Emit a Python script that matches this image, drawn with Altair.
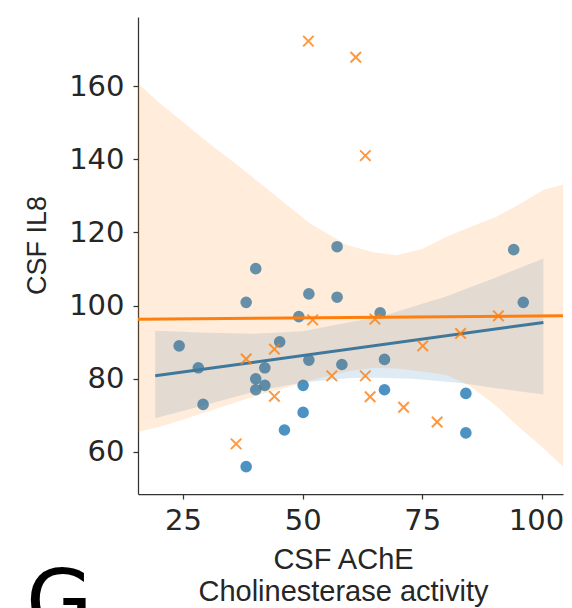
import altair as alt
import pandas as pd

# ---- scatter data ----
blue_x = [24.2, 28.2, 29.2, 38.2, 38.2, 40.2, 40.2, 40.2, 42.1, 42.1, 45.2, 46.2, 49.2, 50.1,
          50.1, 51.3, 51.3, 57.2, 57.2, 58.2, 66.2, 67.1, 67.1, 84.1, 84.1, 94.1, 96.1]
blue_y = [89.0, 83.0, 73.0, 100.9, 56.0, 110.1, 80.0, 77.0, 83.0, 78.2, 90.1, 66.0, 97.0, 78.2,
          70.8, 103.2, 85.1, 116.1, 102.3, 83.9, 98.0, 85.3, 77.0, 76.0, 65.2, 115.3, 100.9]

orange_x = [36.1, 38.2, 44.1, 44.1, 51.2, 52.1, 56.1, 61.1, 63.1, 63.1, 64.1, 65.1, 71.1,
            75.1, 78.1, 83.0, 90.9]
orange_y = [62.2, 85.4, 88.1, 75.2, 172.3, 96.1, 80.8, 167.9, 141.0, 80.8, 75.1, 96.3, 72.2,
            89.0, 68.2, 92.4, 97.2]

# ---- regression lines ----
blue_line_x = [19.2, 100.3]
blue_line_y = [80.8, 95.4]
orange_line_x = [15.6, 104.4]
orange_line_y = [96.3, 97.2]

# ---- confidence bands ----
blue_band_x = [19.2, 30, 40, 50, 60, 66, 73, 80, 83.5, 90, 100.3]
blue_band_lo = [69.2, 73.0, 76.5, 79.0, 80.2, 80.3, 80.0, 79.2, 78.8, 77.5, 75.7]
blue_band_hi = [93.1, 92.6, 92.3, 93.0, 95.5, 96.8, 99.7, 102.5, 104.3, 107.5, 112.9]

orange_band_x = [15.6, 20, 25.4, 30, 35.9, 42, 46.3, 51.5, 59.2, 65, 69.6, 75, 80.1, 85,
                 90.5, 95, 100.3, 104.4]
orange_band_lo = [65.5, 66.8, 69.0, 71.0, 73.5, 76.0, 77.5, 79.5, 82.0, 83.0, 82.8, 82.0,
                  81.0, 78.0, 72.5, 67.0, 61.0, 56.0]
orange_band_hi = [160.7, 155.5, 149.8, 144.8, 138.9, 132.5, 128.0, 122.5, 116.6, 114.5,
                  113.8, 115.5, 118.8, 121.5, 124.3, 127.5, 131.6, 133.1]

x_ticks = [25, 50, 75, 100]
y_ticks = [60, 80, 100, 120, 140, 160]

BLUE = "#1f77b4"
ORANGE = "#ff7f0e"
AX = "#333333"
TXT = "#262626"

xs = alt.Scale(domain=[15.6, 104.4], nice=False, zero=False)
ys = alt.Scale(domain=[48.5, 178.9], nice=False, zero=False)

x_axis = alt.Axis(
    values=x_ticks, title=["CSF AChE", "Cholinesterase activity"], grid=False,
    domainColor=AX, domainWidth=1.25, tickColor=AX, tickWidth=1.25, tickSize=5,
    labelFont="DejaVu Sans", labelFontSize=29, labelColor=TXT, labelPadding=7,
    labelOffset={"condition": {"test": "datum.value == 100", "value": -6}, "value": 0},
    titleFont="Liberation Sans", titleFontSize=29, titleFontWeight="normal", titleColor=TXT,
    titleLineHeight=32, titleX=205, titleY=74, titleAlign="center", titleBaseline="alphabetic",
)
y_axis = alt.Axis(
    values=y_ticks, title="CSF IL8", grid=False,
    domainColor=AX, domainWidth=1.25, tickColor=AX, tickWidth=1.25, tickSize=5,
    labelFont="DejaVu Sans", labelFontSize=29, labelColor=TXT, labelPadding=9,
    titleFont="Liberation Sans", titleFontSize=27, titleFontWeight="normal", titleColor=TXT,
    titleAngle=270, titleX=-101, titleY=228, titleAlign="center", titleBaseline="middle",
)

blue_pts = pd.DataFrame({"x": blue_x, "y": blue_y})
orange_pts = pd.DataFrame({"x": orange_x, "y": orange_y})
blue_ln = pd.DataFrame({"x": blue_line_x, "y": blue_line_y})
orange_ln = pd.DataFrame({"x": orange_line_x, "y": orange_line_y})
blue_bd = pd.DataFrame({"x": blue_band_x, "y": blue_band_lo, "hi": blue_band_hi})
orange_bd = pd.DataFrame({"x": orange_band_x, "y": orange_band_lo, "hi": orange_band_hi})

X = alt.X("x:Q", scale=xs, axis=x_axis)
Y = alt.Y("y:Q", scale=ys, axis=y_axis)

l_blue_pts = alt.Chart(blue_pts).mark_circle(size=135, color=BLUE, opacity=0.8).encode(x=X, y=Y)
l_blue_band = alt.Chart(blue_bd).mark_area(color=BLUE, opacity=0.15).encode(x=X, y=Y, y2="hi:Q")
l_blue_line = alt.Chart(blue_ln).mark_line(color=BLUE, strokeWidth=3).encode(x=X, y=Y)
l_orange_pts = alt.Chart(orange_pts).mark_point(
    shape="M-1,-1L1,1M-1,1L1,-1", filled=False, strokeWidth=2, size=110,
    color=ORANGE, opacity=0.8).encode(x=X, y=Y)
l_orange_band = alt.Chart(orange_bd).mark_area(color=ORANGE, opacity=0.15).encode(x=X, y=Y, y2="hi:Q")
l_orange_line = alt.Chart(orange_ln).mark_line(color=ORANGE, strokeWidth=3).encode(x=X, y=Y)

panel_label = alt.Chart(pd.DataFrame({"t": ["G"]})).mark_text(
    font="DejaVu Sans", fontSize=86, color="#000000", align="left", baseline="alphabetic"
).encode(text="t:N", x=alt.value(-112), y=alt.value(614))

chart = alt.layer(
    l_blue_pts, l_blue_band, l_blue_line, l_orange_pts, l_orange_band, l_orange_line, panel_label
).properties(
    width=425, height=477,
    autosize=alt.AutoSizeParams(type="none"),
    padding={"left": 130, "top": 9, "right": 1, "bottom": 114},
).configure_view(stroke=None)

chart.save("out.html", embed_options={"renderer": "svg", "actions": False})
